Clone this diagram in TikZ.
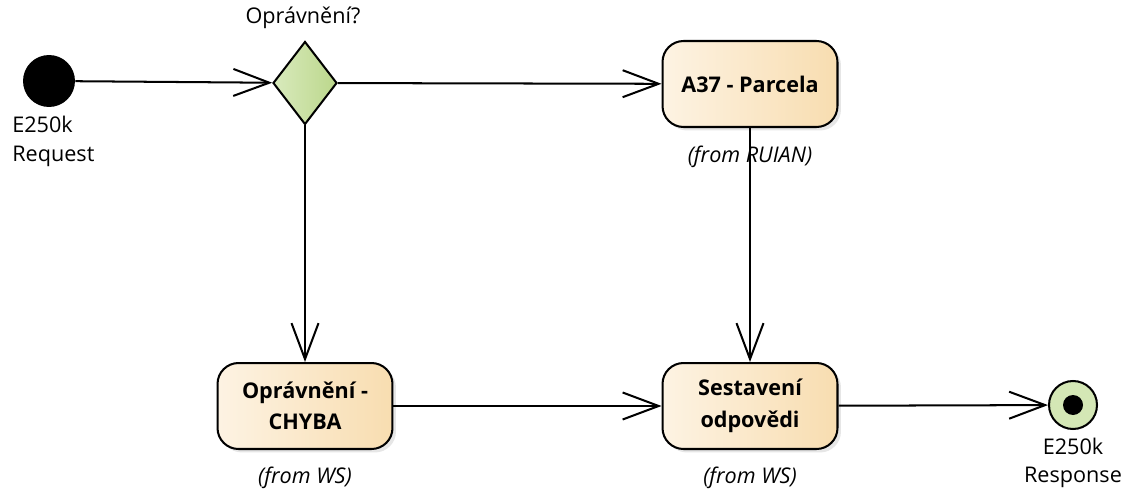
\documentclass[tikz,border=0pt]{standalone}
\usepackage{fontspec}
\setmainfont{Open Sans}
\usetikzlibrary{arrows.meta,shapes.geometric,shadows}

\definecolor{actlight}{HTML}{FDF3E3}
\definecolor{actdark}{HTML}{F8DDB0}
\definecolor{gatelight}{HTML}{D9EABD}
\definecolor{gatedark}{HTML}{BBD78B}

\tikzset{
    flow/.style={line width=1.15pt,-{Straight Barb[length=0.72cm,width=0.54cm,line width=1.15pt]}},
    action/.style={draw,line width=1.15pt,rounded corners=0.42cm,minimum width=3.5cm,minimum height=1.72cm,
        align=center,font=\fontsize{12.3}{18}\selectfont\bfseries,left color=actlight,right color=actdark,
        drop shadow={shadow xshift=0.07cm,shadow yshift=-0.07cm,opacity=0.2}},
    gate/.style={diamond,draw,line width=1.15pt,minimum width=1.28cm,minimum height=1.66cm,inner sep=0pt,
        left color=gatelight,right color=gatedark},
    lbl/.style={font=\fontsize{12.3}{16.2}\selectfont,align=center,inner sep=0pt},
    origin/.style={font=\fontsize{12.3}{16.2}\selectfont\itshape,inner sep=0pt}
}

\begin{document}
\begin{tikzpicture}[x=0.02cm,y=-0.02cm]
        \useasboundingbox (0,0) rectangle (1132,493);
        %% Initial node
        \node[circle,fill=black,minimum size=1.04cm,inner sep=0pt] (start) at (49,81) {};
        \node[lbl,align=left,anchor=north west] (startlbl) at (12,116) {E250k\\Request};
        %% Decision
        \node[gate] (check) at (305,83) {};
        \node[lbl] (checklbl) at (303,18) {Oprávnění?};
        %% Actions
        \node[action] (parcela) at (750,84) {A37 - Parcela};
        \node[origin] (parcelafrom) at (750,157) {(from RUIAN)};
        \node[action] (chyba) at (305,406) {Oprávnění -\\CHYBA};
        \node[origin] (chybafrom) at (305,478) {(from WS)};
        \node[action] (odpoved) at (750,406) {Sestavení\\odpovědi};
        \node[origin] (odpovedfrom) at (750,478) {(from WS)};
        %% Final node
        \node[circle,draw,line width=1.15pt,fill=gatelight!85!gatedark,minimum size=0.96cm,inner sep=0pt] (final) at (1073,405) {};
        \fill (final.center) circle (0.2cm);
        \node[lbl] (finallbl) at (1073,463) {E250k\\Response};
        %% Flows
        \draw[flow] (start) -- (check);
        \draw[flow] (check) -- (parcela);
        \draw[flow] (check) -- (chyba);
        \draw[flow] (parcela) -- (odpoved);
        \draw[flow] (chyba) -- (odpoved);
        \draw[flow] (odpoved) -- (final);
    \end{tikzpicture}
\end{document}
